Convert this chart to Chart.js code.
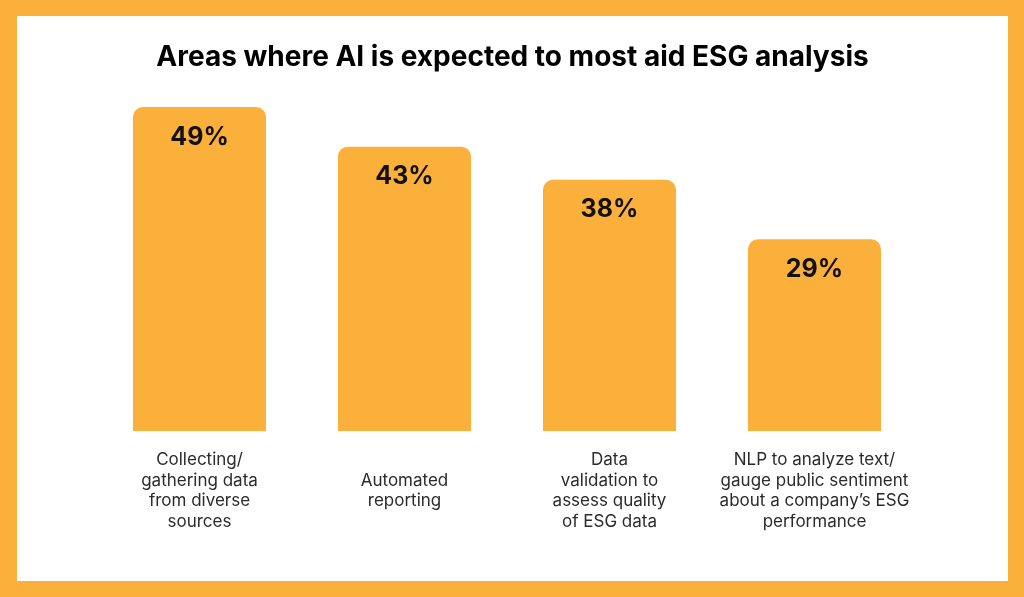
<!DOCTYPE html>
<html>
<head>
<meta charset="utf-8">
<script src="https://cdn.jsdelivr.net/npm/chart.js@4.4.0/dist/chart.umd.min.js"></script>
<style>
  html, body { margin: 0; padding: 0; }
  body { width: 1024px; height: 597px; background: #FBB03B; position: relative; overflow: hidden; }
  #panel { position: absolute; left: 17px; top: 16px; width: 991px; height: 565px; background: #ffffff; }
  canvas { display: block; }
</style>
</head>
<body>
<div id="panel"><canvas id="c" width="991" height="565"></canvas></div>
<script>
const titleText = "Areas where AI is expected to most aid ESG analysis";
const categories = [
  ["Collecting/", "gathering data", "from diverse", "sources"],
  ["Automated", "reporting"],
  ["Data", "validation to", "assess quality", "of ESG data"],
  ["NLP to analyze text/", "gauge public sentiment", "about a company\u2019s ESG", "performance"]
];
const values = [49, 43, 38, 29];
const valueLabels = ["49%", "43%", "38%", "29%"];

const FONT = "Inter, 'Open Sans', sans-serif";
const barColor = "#FBB03B";

function padLines(lines, n) {
  const out = lines.slice();
  let front = true;
  while (out.length < n) {
    if (front) out.unshift(""); else out.push("");
    front = !front;
  }
  return out;
}
const maxLines = Math.max(...categories.map(c => c.length));

const valueLabelPlugin = {
  id: 'valueLabels',
  afterDatasetsDraw(chart) {
    const ctx = chart.ctx;
    const meta = chart.getDatasetMeta(0);
    ctx.save();
    ctx.font = "700 25px " + FONT;
    ctx.fillStyle = "#111111";
    ctx.textAlign = "center";
    ctx.textBaseline = "middle";
    meta.data.forEach((bar, i) => {
      ctx.fillText(valueLabels[i], bar.x, bar.y + 30);
    });
    ctx.restore();
  }
};

// centre the title on the white panel rather than on the padded chart box
const titleCentre = {
  id: 'titleCentre',
  afterLayout(chart) {
    const tb = chart.titleBlock;
    if (tb) {
      const w = tb.right - tb.left;
      const mid = chart.width / 2;
      tb.left = mid - w / 2;
      tb.right = mid + w / 2;
    }
  }
};

new Chart(document.getElementById('c'), {
  type: 'bar',
  data: {
    labels: categories.map(c => padLines(c, maxLines)),
    datasets: [{
      data: values,
      backgroundColor: barColor,
      borderWidth: 0,
      borderRadius: { topLeft: 10, topRight: 10, bottomLeft: 0, bottomRight: 0 },
      borderSkipped: false,
      barPercentage: 0.649,
      categoryPercentage: 1.0
    }]
  },
  options: {
    responsive: false,
    animation: false,
    devicePixelRatio: 1,
    layout: { padding: { left: 80, right: 91, top: 0, bottom: 0 } },
    plugins: {
      legend: { display: false },
      tooltip: { enabled: false },
      title: {
        display: true,
        text: titleText,
        color: "#000000",
        font: { family: FONT, size: 28, weight: '700', lineHeight: 1.2 },
        padding: { top: 25.2, bottom: 32.2 }
      }
    },
    scales: {
      x: {
        grid: { display: false, drawTicks: false },
        border: { display: false },
        ticks: {
          color: "#2b2b2b",
          font: { family: FONT, size: 17, lineHeight: 1.2 },
          padding: 19,
          maxRotation: 0,
          autoSkip: false
        },
        afterFit(scale) { scale.height = 150; }
      },
      y: {
        display: false,
        min: 0,
        max: 49
      }
    }
  },
  plugins: [titleCentre, valueLabelPlugin]
});
</script>
</body>
</html>
